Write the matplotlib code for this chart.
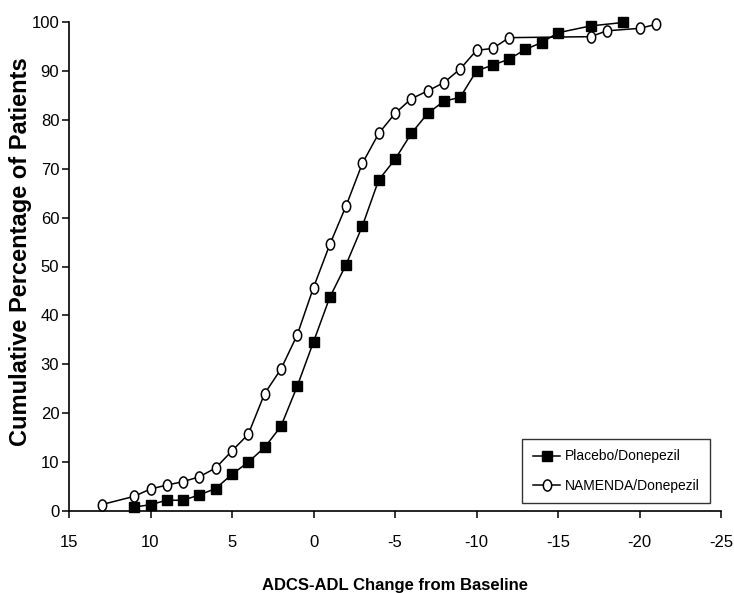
import numpy as np
import matplotlib
matplotlib.use("Agg")
import matplotlib.pyplot as plt
from matplotlib.path import Path

plt.rcParams['font.family'] = ['Liberation Sans', 'DejaVu Sans']

placebo_x = [11, 10, 9, 8, 7, 6, 5, 4, 3, 2, 1, 0, -1, -2, -3, -4, -5, -6, -7, -8,
             -9, -10, -11, -12, -13, -14, -15, -17, -19]
placebo_y = [0.8, 1.3, 2.2, 2.2, 3.3, 4.6, 7.5, 10.0, 13.0, 17.3, 25.5, 34.6, 43.7,
             50.4, 58.3, 67.7, 71.9, 77.2, 81.3, 83.8, 84.6, 90.0, 91.2, 92.4, 94.4,
             95.8, 97.8, 99.2, 99.9]

namenda_x = [13, 11, 10, 9, 8, 7, 6, 5, 4, 3, 2, 1, 0, -1, -2, -3, -4, -5, -6, -7,
             -8, -9, -10, -11, -12, -17, -18, -20, -21]
namenda_y = [1.3, 3.0, 4.5, 5.3, 6.0, 7.0, 8.8, 12.3, 15.7, 24.0, 29.0, 36.0, 45.7,
             54.5, 62.4, 71.1, 77.2, 81.3, 84.3, 85.9, 87.6, 90.4, 94.2, 94.6, 96.8,
             97.0, 98.2, 98.7, 99.5]

x_ticks = [15, 10, 5, 0, -5, -10, -15, -20, -25]
y_ticks = [0, 10, 20, 30, 40, 50, 60, 70, 80, 90, 100]

series_labels = ["Placebo/Donepezil", "NAMENDA/Donepezil"]
x_label = "ADCS-ADL Change from Baseline"
y_label = "Cumulative Percentage of Patients"

# vertically stretched ellipse marker
t = np.linspace(0, 2 * np.pi, 60)
ellipse = Path(np.column_stack([0.75 * np.cos(t), np.sin(t)]), closed=True)

fig = plt.figure(figsize=(7.34, 5.93), dpi=100)
ax = fig.add_axes([69 / 734, 1 - 511 / 593, (721 - 69) / 734, (511 - 22) / 593])

ax.plot(placebo_x, placebo_y, color='black', lw=1.1, marker='s', markersize=6.5,
        markerfacecolor='black', markeredgecolor='black', label=series_labels[0],
        clip_on=False, zorder=3)
ax.plot(namenda_x, namenda_y, color='black', lw=1.1, marker=ellipse, markersize=8,
        markerfacecolor='white', markeredgecolor='black', markeredgewidth=1.1,
        label=series_labels[1], clip_on=False, zorder=4)

ax.set_xlim(15, -25)
ax.set_ylim(0, 100)
ax.set_xticks(x_ticks)
ax.set_xticklabels([str(v) for v in x_ticks])
ax.set_yticks(y_ticks)
ax.set_yticklabels([str(v) for v in y_ticks])

for s in ['top', 'right']:
    ax.spines[s].set_visible(False)
for s in ['left', 'bottom']:
    ax.spines[s].set_linewidth(1.2)
    ax.spines[s].set_color('black')

ax.tick_params(axis='both', direction='out', length=5, width=1.1, colors='black',
               labelsize=12)
ax.tick_params(axis='x', pad=12)
ax.tick_params(axis='y', pad=2)

ax.set_xlabel(x_label, fontsize=12, fontweight='bold')
ax.xaxis.set_label_coords(0.5, -0.138)
ax.set_ylabel(y_label, fontsize=17, fontweight='bold')
ax.yaxis.set_label_coords(-0.057, 0.53)

leg = ax.legend(loc='lower right', bbox_to_anchor=(0.983, 0.016), frameon=True,
                fancybox=False, edgecolor='black', fontsize=10, borderaxespad=0,
                handlelength=2.0, labelspacing=1.1, borderpad=0.75, handletextpad=0.3)
leg.get_frame().set_linewidth(1.0)

fig.savefig("out.png", dpi=100, facecolor='white')
